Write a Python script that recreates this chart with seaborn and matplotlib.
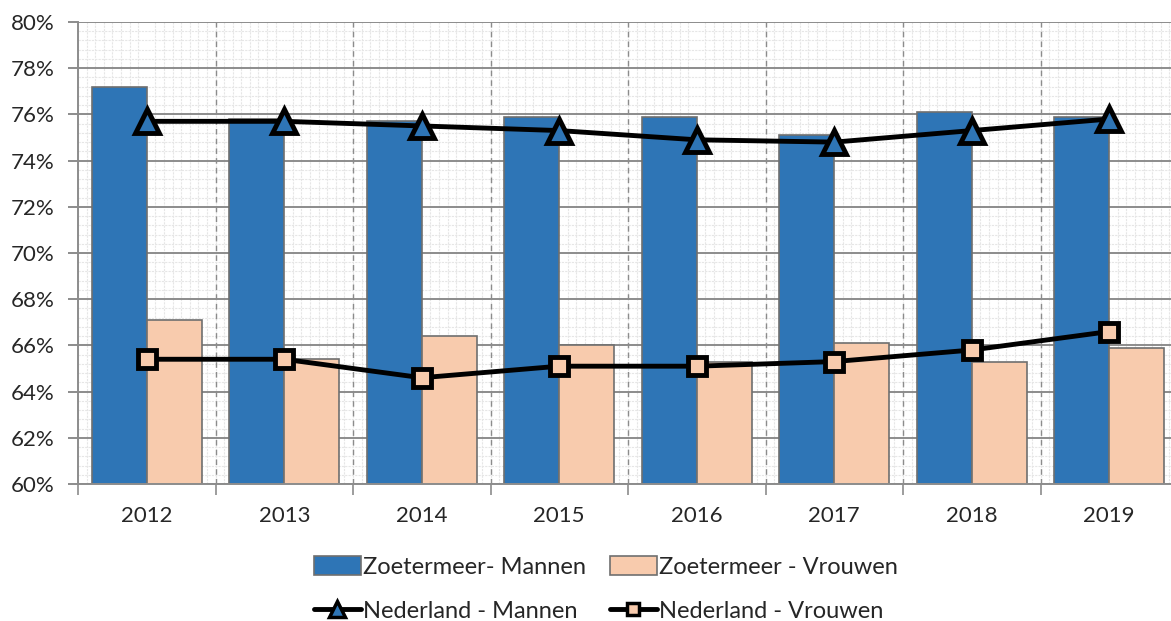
import matplotlib
matplotlib.use("Agg")
import matplotlib.pyplot as plt
import seaborn as sns
import pandas as pd
import numpy as np
from matplotlib.patches import Patch
from matplotlib.lines import Line2D
from matplotlib.ticker import MultipleLocator, FixedLocator, FuncFormatter

years = ["2012", "2013", "2014", "2015", "2016", "2017", "2018", "2019"]
zoetermeer_mannen = [77.2, 75.8, 75.7, 75.9, 75.9, 75.1, 76.1, 75.9]
zoetermeer_vrouwen = [67.1, 65.4, 66.4, 66.0, 65.3, 66.1, 65.3, 65.9]
nederland_mannen = [75.7, 75.7, 75.5, 75.3, 74.9, 74.8, 75.3, 75.8]
nederland_vrouwen = [65.4, 65.4, 64.6, 65.1, 65.1, 65.3, 65.8, 66.6]
labels = ["Zoetermeer- Mannen", "Zoetermeer - Vrouwen", "Nederland - Mannen", "Nederland - Vrouwen"]

blue = "#2E75B6"
peach = "#F8CBAD"
edge = "#6f6f6f"

sns.set_style("white")
plt.rcParams["font.family"] = ["Lato", "DejaVu Sans"]

fig = plt.figure(figsize=(11.71, 6.21), dpi=100)
ax = fig.add_axes([78/1171, 137/621, 1100/1171, 462/621])

bars = pd.DataFrame({
    "year": years * 2,
    "value": zoetermeer_mannen + zoetermeer_vrouwen,
    "serie": [labels[0]] * 8 + [labels[1]] * 8,
})
sns.barplot(data=bars, x="year", y="value", hue="serie", palette=[blue, peach],
            saturation=1, width=0.8, edgecolor=edge, linewidth=1.2, ax=ax,
            legend=False, zorder=3)

xpos = np.arange(len(years))
sns.lineplot(x=xpos, y=nederland_mannen, ax=ax, color="black", linewidth=3.5,
             marker="^", markersize=17, markerfacecolor=blue, markeredgecolor="black",
             markeredgewidth=3.5, zorder=5)
sns.lineplot(x=xpos, y=nederland_vrouwen, ax=ax, color="black", linewidth=3.5,
             marker="s", markersize=13, markerfacecolor=peach, markeredgecolor="black",
             markeredgewidth=3.5, zorder=5)

ax.set_ylim(60, 80)
ax.set_xlim(-0.5, 7.5)
ax.yaxis.set_major_locator(MultipleLocator(2))
ax.yaxis.set_minor_locator(MultipleLocator(0.4))
ax.yaxis.set_major_formatter(FuncFormatter(lambda v, p: f"{v:.0f}%"))

ax.xaxis.set_minor_locator(FixedLocator(np.arange(-0.5, 7.6, 1/16)))
# grid
ax.grid(which="minor", axis="both", color="#e6e6e6", linewidth=0.8, linestyle=(0, (2, 1)), zorder=0)
ax.grid(which="major", axis="y", color="#8c8c8c", linewidth=1.4, linestyle="-", zorder=1)
for b in np.arange(0.5, 7.5, 1):
    ax.axvline(b, color="#8c8c8c", linewidth=1.0, linestyle=(0, (4, 3)), zorder=1)
ax.set_axisbelow(True)

ax.set_xlabel("")
ax.set_ylabel("")
for s in ["top", "right"]:
    ax.spines[s].set_visible(False)
for s in ["left", "bottom"]:
    ax.spines[s].set_color("#8c8c8c")
    ax.spines[s].set_linewidth(1.4)
    ax.spines[s].set_zorder(6)

ax.tick_params(axis="y", which="major", length=7, width=1.4, color="#8c8c8c",
               labelsize=16, pad=10, left=True)
ax.tick_params(axis="y", which="minor", length=0)
ax.tick_params(axis="x", which="major", length=0, labelsize=16, pad=16)
ax.tick_params(axis="x", which="minor", length=0)
# boundary tick marks on x
sec = ax.secondary_xaxis("bottom")
sec.set_xticks(np.arange(-0.5, 7.6, 1))
sec.set_xticklabels([])
sec.tick_params(length=8, width=1.2, color="#8c8c8c")
sec.spines["bottom"].set_visible(False)

handles = [
    Patch(facecolor=blue, edgecolor=edge, linewidth=1.2),
    Line2D([0], [0], color="black", linewidth=3.5, marker="^", markersize=11,
           markerfacecolor=blue, markeredgecolor="black", markeredgewidth=2.5),
    Patch(facecolor=peach, edgecolor=edge, linewidth=1.2),
    Line2D([0], [0], color="black", linewidth=3.5, marker="s", markersize=9,
           markerfacecolor=peach, markeredgecolor="black", markeredgewidth=2.5),
]
hl = [labels[0], labels[2], labels[1], labels[3]]
fig.legend(handles, hl, loc="center", bbox_to_anchor=(606/1171, 1 - 589/621), ncol=2,
           frameon=False, fontsize=17, handlelength=2.0, handleheight=0.9,
           handletextpad=0.1, columnspacing=1.0, labelspacing=0.95)

fig.savefig("out.png", dpi=100)
